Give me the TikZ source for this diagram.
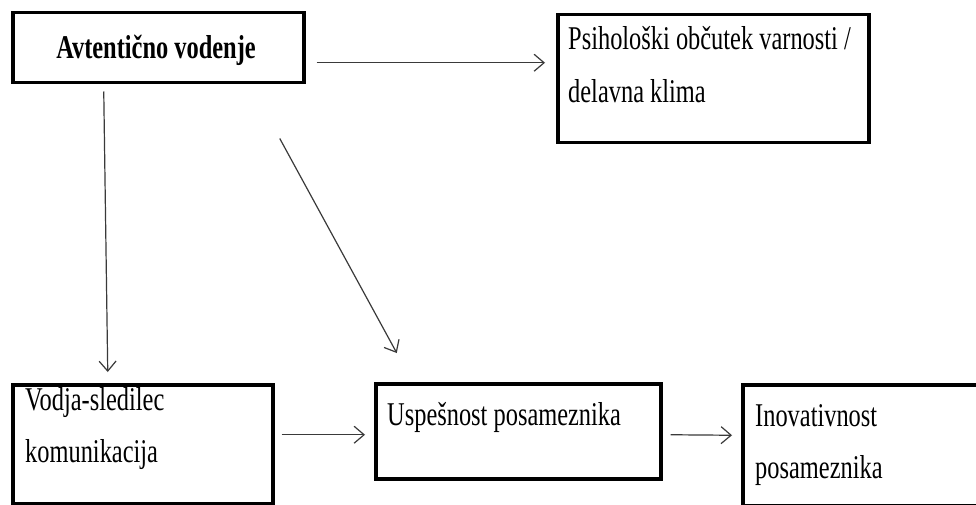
\documentclass[tikz,border=0pt]{standalone}
\usepackage{fontspec}
\setmainfont{Liberation Serif}
\usepackage{graphicx}
\usetikzlibrary{arrows.meta}
\newcommand{\stx}[1]{\scalebox{1}[1.36]{\begin{tabular}[t]{@{}l@{}}#1\end{tabular}}}
\definecolor{arrgray}{HTML}{3A3A3A}
\tikzset{
  box/.style={draw=black, line width=3.5pt, inner sep=0pt, anchor=north west, fill=white},
  txt/.style={inner sep=0pt, anchor=base west, font=\fontsize{24.4}{38.5}\selectfont},
  arr/.style={draw=arrgray, line width=1.2pt, -{Straight Barb[length=10pt,width=17pt,line width=1.2pt]}}
}
\begin{document}
\begin{tikzpicture}[x=1pt,y=-1pt]
\clip (0,0) rectangle (976,505);
\fill[white] (0,0) rectangle (976,505);
% boxes
\node[box, minimum width=291pt, minimum height=70pt] (a) at (11,11) {};
\node[box, minimum width=311pt, minimum height=128pt] (b) at (556,13) {};
\node[box, minimum width=260pt, minimum height=119pt] (c) at (11,383) {};
\node[box, minimum width=285pt, minimum height=95pt] (d) at (374,382) {};
\node[box, minimum width=260pt, minimum height=121pt] (e) at (741,383) {};
% texts
\node[txt, anchor=base, font=\fontsize{24.4}{38.5}\selectfont\bfseries] (ta) at (156,59) {\stx{Avtentično vodenje}};
\node[txt] (tb) at (568,50) {\stx{Psihološki občutek varnosti /\\delavna klima}};
\node[txt] (tc) at (25,410) {\stx{Vodja-sledilec\\komunikacija}};
\node[txt] (td) at (387,425) {\stx{Uspešnost posameznika}};
\node[txt] (te) at (755,426) {\stx{Inovativnost\\posameznika}};
% connectors
\draw[arr] ([shift={(11,15)}]a.east) -- ([shift={(-11,-16)}]b.west);
\draw[arr] ([shift={(-54.5,7)}]a.south) -- ([shift={(-35,-11)}]c.north);
\draw[arr] ([shift={(121.5,54)}]a.south) -- ([shift={(-121.5,-29)}]d.north);
\draw[arr] ([shift={(7,-9.5)}]c.east) -- ([shift={(-9,3.5)}]d.west);
\draw[arr] ([shift={(8,3.5)}]d.east) -- ([shift={(-9,-10)}]e.west);
\end{tikzpicture}
\end{document}
